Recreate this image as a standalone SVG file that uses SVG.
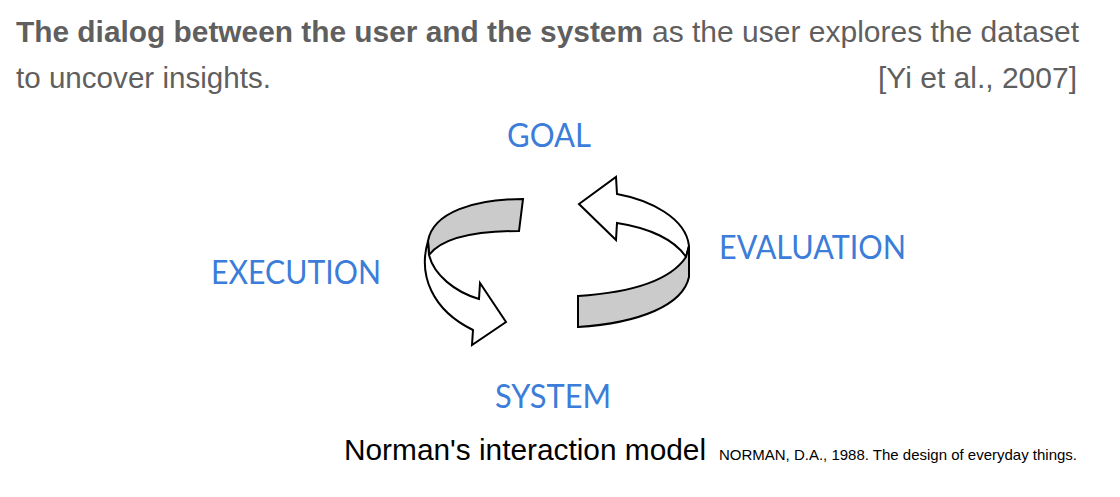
<svg xmlns="http://www.w3.org/2000/svg" width="1120" height="497" viewBox="0 0 1120 497">
<style>
.hdr{font-family:"Liberation Sans",Arial,sans-serif;font-size:30px;fill:#5f5f5f}
.b{font-weight:bold}
.lbl{font-family:Lato,"Open Sans",sans-serif;font-size:33px;fill:#3b7dd8}
.cap{font-family:"Liberation Sans",Arial,sans-serif;fill:#000}
.w{fill:#fff;stroke:#000;stroke-width:2;stroke-linejoin:miter}
.g{fill:#cbcbcb;stroke:#000;stroke-width:2;stroke-linejoin:miter}
</style>
<rect width="1120" height="497" fill="#fff"/>
<g id="header">
<text class="hdr b" x="16" y="42" textLength="627" lengthAdjust="spacingAndGlyphs">The dialog between the user and the system</text>
<text class="hdr" x="652" y="42" textLength="427" lengthAdjust="spacingAndGlyphs">as the user explores the dataset</text>
<text class="hdr" x="16" y="88" textLength="255" lengthAdjust="spacingAndGlyphs">to uncover insights.</text>
<text class="hdr" x="1077" y="88" text-anchor="end">[Yi et al., 2007]</text>
</g>
<g id="goal"><text class="lbl" x="507" y="147" textLength="84" lengthAdjust="spacingAndGlyphs">GOAL</text></g>
<g id="execution"><text class="lbl" x="211" y="284" textLength="170" lengthAdjust="spacingAndGlyphs">EXECUTION</text></g>
<g id="evaluation"><text class="lbl" x="719" y="259" textLength="187" lengthAdjust="spacingAndGlyphs">EVALUATION</text></g>
<g id="system"><text class="lbl" x="495" y="408" textLength="116" lengthAdjust="spacingAndGlyphs">SYSTEM</text></g>
<g id="connectors">
<path class="g" d="M523,199 C475,199 433,212 428,241 L429,255 C442,238 475,231 519,231 Z"/>
<path class="w" d="M428,241 C418,275 432,310 473,330 L472,345 L506,322 L480,283 L479,299 C455,292 434,275 429,255 Z"/>
<path class="w" d="M579,204 L616,177 L617,194 C650,200 686,218 689,246 L686,257 C675,240 650,228 617,223 L616,240 Z"/>
<path class="g" d="M686,257 C672,278 640,292 578,296 L578,327 C640,323 683,305 689,277 L689,246 Z"/>
</g>
<g id="caption">
<text class="cap" x="344" y="460" font-size="30" textLength="362" lengthAdjust="spacingAndGlyphs">Norman's interaction model</text>
<text class="cap" x="719" y="460" font-size="15" textLength="358" lengthAdjust="spacingAndGlyphs" fill="#222">NORMAN, D.A., 1988. The design of everyday things.</text>
</g>
</svg>
